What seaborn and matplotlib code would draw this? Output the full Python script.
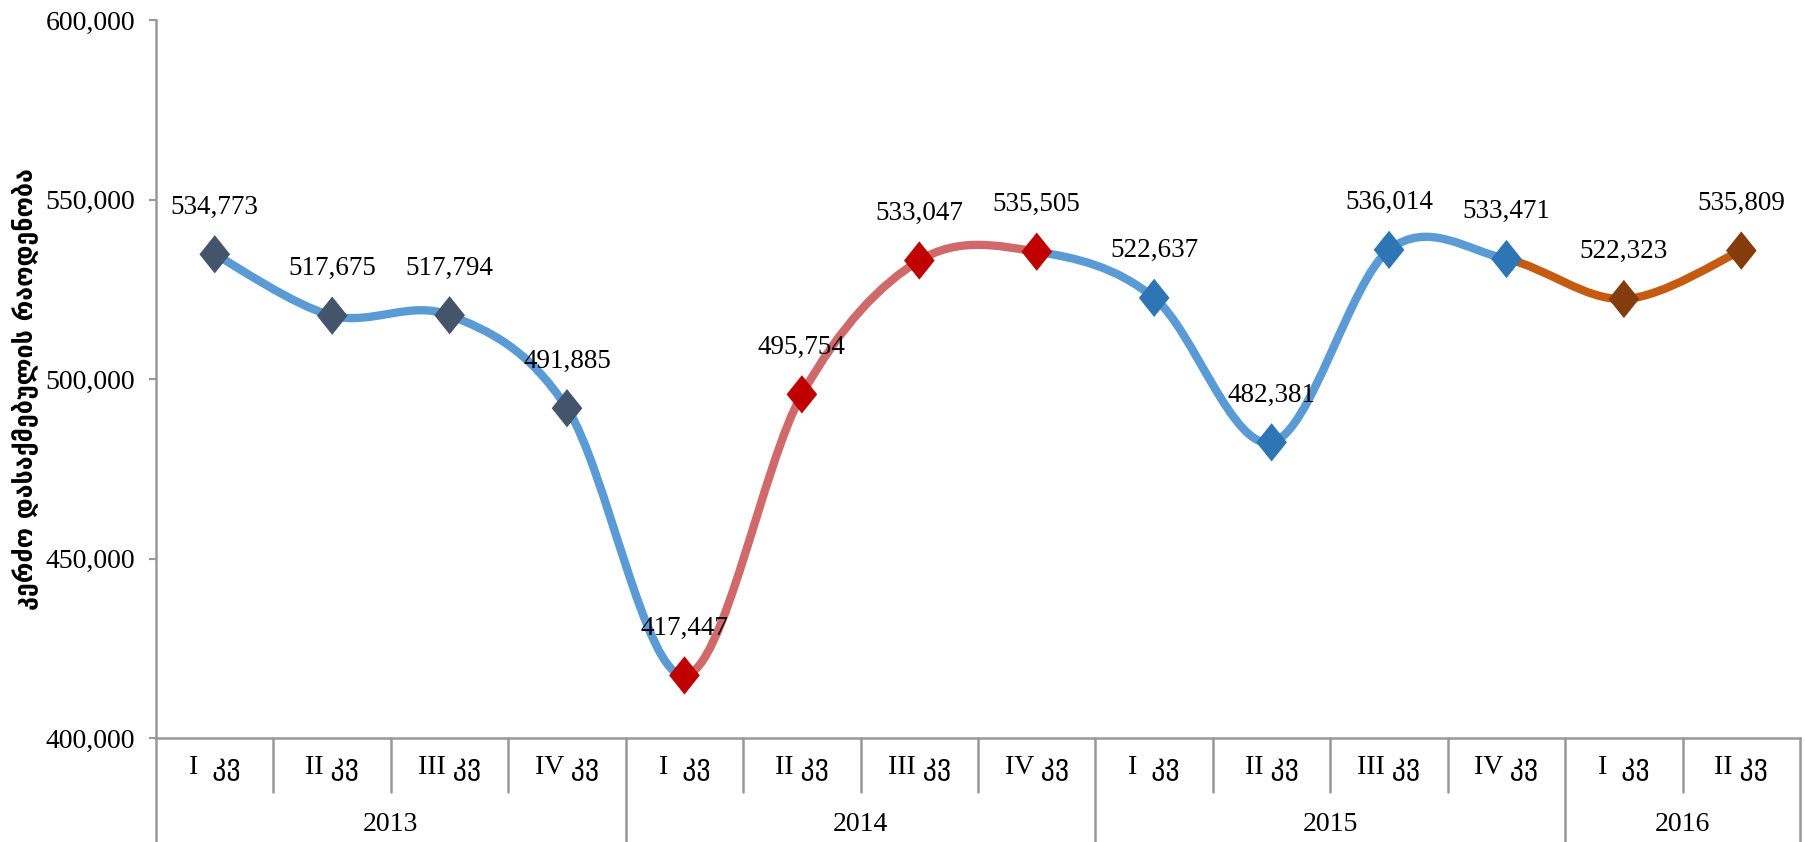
import matplotlib
matplotlib.use("Agg")
import matplotlib.pyplot as plt
from matplotlib.path import Path
from matplotlib.patches import PathPatch
import pandas as pd
import seaborn as sns

# Chart data
quarters = ["I  კვ", "II კვ", "III კვ", "IV კვ",
            "I  კვ", "II კვ", "III კვ", "IV კვ",
            "I  კვ", "II კვ", "III კვ", "IV კვ",
            "I  კვ", "II კვ"]
years = ["2013", "2013", "2013", "2013",
         "2014", "2014", "2014", "2014",
         "2015", "2015", "2015", "2015",
         "2016", "2016"]
values = [534773, 517675, 517794, 491885,
          417447, 495754, 533047, 535505,
          522637, 482381, 536014, 533471,
          522323, 535809]
y_label = "კერძო დასაქმებულის რაოდენობა"

# colours of the curve pieces between consecutive points
seg_colors = ["#5b9bd5"] * 4 + ["#d06a6a"] * 3 + ["#5b9bd5"] * 4 + ["#c55a11"] * 2
year_colors = {"2013": "#44546a", "2014": "#c00000",
               "2015": "#2e75b6", "2016": "#843c0c"}

GRAY = "#989898"
SERIF = ["Liberation Serif", "DejaVu Sans"]
DIAMOND = [(0, 1), (0.8, 0), (0, -1), (-0.8, 0), (0, 1)]


def smooth_segment(p0, p1, p2, p3):
    """Bezier control points of a Catmull-Rom piece from p1 to p2."""
    c1 = (p1[0] + (p2[0] - p0[0]) / 6, p1[1] + (p2[1] - p0[1]) / 6)
    c2 = (p2[0] - (p3[0] - p1[0]) / 6, p2[1] - (p3[1] - p1[1]) / 6)
    return Path([p1, c1, c2, p2],
                [Path.MOVETO, Path.CURVE4, Path.CURVE4, Path.CURVE4])


def main():
    sns.set_theme(style="white")
    plt.rcParams["font.family"] = SERIF
    plt.rcParams["text.color"] = "black"
    plt.rcParams["ytick.labelcolor"] = "black"

    df = pd.DataFrame({"x": range(len(values)), "value": values,
                       "year": years, "quarter": quarters})

    fig, ax = plt.subplots(figsize=(18.06, 8.42), dpi=100)
    fig.subplots_adjust(left=0.0864, right=0.9967, bottom=0.1235, top=0.976)

    # smoothed line, one piece per pair of points
    pts = list(zip(df["x"], df["value"]))
    n = len(pts)
    for i in range(n - 1):
        p0 = pts[max(i - 1, 0)]
        p3 = pts[min(i + 2, n - 1)]
        path = smooth_segment(p0, pts[i], pts[i + 1], p3)
        ax.add_patch(PathPatch(path, facecolor="none", edgecolor=seg_colors[i],
                               linewidth=6, capstyle="round", zorder=2))

    # diamond markers coloured by year
    sns.scatterplot(data=df, x="x", y="value", hue="year", palette=year_colors,
                    marker=DIAMOND, s=760, linewidth=0, legend=False, ax=ax,
                    zorder=3)

    # data labels
    for x, v in zip(df["x"], df["value"]):
        ax.annotate(f"{v:,}", (x, v), xytext=(0, 34),
                    textcoords="offset points", ha="center", va="center",
                    fontsize=19.5, family=SERIF, color="black")

    ax.set_xlim(-0.5, n - 0.5)
    ax.set_ylim(400000, 600000)
    ax.set_yticks(range(400000, 600001, 50000))
    ax.set_yticklabels([f"{t:,}" for t in range(400000, 600001, 50000)])
    ax.set_xticks([])
    ax.set_xlabel("")
    ax.set_ylabel("")
    ax.tick_params(axis="y", left=True, length=5, width=1.5, color=GRAY,
                   pad=10, labelsize=20, labelcolor="black")

    for side in ["top", "right"]:
        ax.spines[side].set_visible(False)
    for side in ["left", "bottom"]:
        ax.spines[side].set_color(GRAY)
        ax.spines[side].set_linewidth(1.8)

    # multi-level category axis below the plot
    axes_h = 718.0
    row1 = -54 / axes_h
    row2 = -104 / axes_h
    tr = ax.get_xaxis_transform()
    ax.plot([-0.5, -0.5], [0, row2], color=GRAY, lw=1.8, transform=tr,
            clip_on=False)
    year_edges = [3.5, 7.5, 11.5, 13.5]
    for i in range(1, n + 1):
        edge = i - 0.5
        bottom = row2 if edge in year_edges else row1
        ax.plot([edge, edge], [0, bottom], color=GRAY, lw=1.8, transform=tr,
                clip_on=False)
    for x, q in zip(df["x"], df["quarter"]):
        ax.text(x, -29 / axes_h, q, transform=tr, ha="center", va="center",
                fontsize=20, family=SERIF, color="black")
    starts = [0] + [int(e + 0.5) for e in year_edges[:-1]]
    ends = [int(e - 0.5) for e in year_edges]
    for s, e in zip(starts, ends):
        ax.text((s + e) / 2, -87 / axes_h, years[s], transform=tr,
                ha="center", va="center", fontsize=20, family=SERIF,
                color="black")

    fig.text(0.0135, 0.538, y_label, rotation=90, ha="center", va="center",
             fontsize=18, fontweight="bold", family="DejaVu Sans",
             color="black")

    fig.savefig("out.png", dpi=100)


if __name__ == "__main__":
    main()
